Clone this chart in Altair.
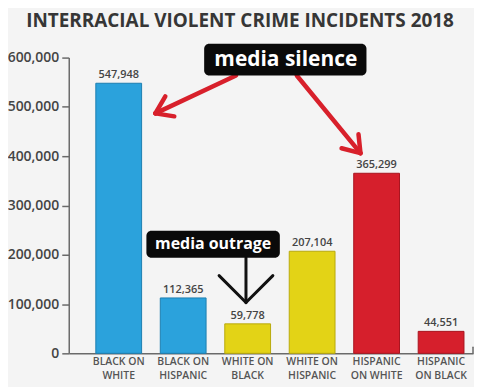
import altair as alt
import pandas as pd

categories = ["BLACK ON\nWHITE", "BLACK ON\nHISPANIC", "WHITE ON\nBLACK",
              "WHITE ON\nHISPANIC", "HISPANIC\nON WHITE", "HISPANIC\nON BLACK"]
incidents = [547948, 112365, 59778, 207104, 365299, 44551]
bar_colors = ["#2ba2dc", "#2ba2dc", "#e3d316", "#e3d316", "#d61f2c", "#d61f2c"]
stroke_colors = ["#1d7fb0", "#1d7fb0", "#b8a90c", "#b8a90c", "#a8141f", "#a8141f"]
y_ticks = [0, 100000, 200000, 300000, 400000, 500000, 600000]

df = pd.DataFrame({"cat": categories, "n": incidents,
                   "fill": bar_colors, "edge": stroke_colors})
one = pd.DataFrame({"k": [0]})

FONT = "Open Sans"
RED = "#d8202b"

x_enc = alt.X("cat:N", sort=categories,
              scale=alt.Scale(paddingInner=0.29, paddingOuter=0.28, align=0.75),
              axis=alt.Axis(title=None, labelAngle=0, ticks=False,
                            domainColor="#6a6a6a", domainWidth=1.5,
                            labelExpr="split(datum.label, '\\n')",
                            labelFont=FONT, labelFontSize=10.5, labelColor="#555555",
                            labelFontWeight=600, labelLineHeight=14, labelPadding=3))
y_enc = alt.Y("n:Q", scale=alt.Scale(domain=[0, 600000], nice=False),
              axis=alt.Axis(title=None, values=y_ticks, format=",.0f", grid=False,
                            domainColor="#6a6a6a", domainWidth=1.5,
                            tickColor="#6a6a6a", tickWidth=1.5, tickSize=7,
                            labelFont=FONT, labelFontSize=14, labelFontWeight=600,
                            labelColor="#444444", labelPadding=3))

bars = alt.Chart(df).mark_bar(strokeWidth=1).encode(
    x=x_enc, y=y_enc,
    fill=alt.Fill("fill:N", scale=None),
    stroke=alt.Stroke("edge:N", scale=None),
)

values = alt.Chart(df).mark_text(dy=-8, font=FONT, fontSize=11, fontWeight=600,
                                 color="#444444").encode(
    x=alt.X("cat:N", sort=categories), y="n:Q", text=alt.Text("n:Q", format=",.0f"))


def seg(x1, y1, x2, y2, color, w):
    return alt.Chart(one).mark_rule(color=color, strokeWidth=w, strokeCap="round").encode(
        x=alt.value(x1), y=alt.value(y1), x2=alt.value(x2), y2=alt.value(y2))


def box(x1, y1, x2, y2):
    return alt.Chart(one).mark_rect(color="#0a0a0a", cornerRadius=5).encode(
        x=alt.value(x1), y=alt.value(y1), x2=alt.value(x2), y2=alt.value(y2))


def label(text, x, y, size, color="white", weight="bold"):
    return alt.Chart(one).mark_text(font=FONT, fontSize=size, fontWeight=weight,
                                    color=color, baseline="middle", align="center").encode(
        x=alt.value(x), y=alt.value(y), text=alt.value(text))


layers = [bars, values,
          # right end tick of x axis
          seg(406, 297, 406, 291, "#6a6a6a", 1.5),
          # red arrows
          seg(168, 18, 87, 56, RED, 4.5),
          seg(87, 56, 106, 59, RED, 4.5),
          seg(87, 56, 97, 39, RED, 4.5),
          seg(229, 18, 293, 96, RED, 4.5),
          seg(293, 96, 291, 77, RED, 4.5),
          seg(293, 96, 274, 91, RED, 4.5),
          box(136, -14, 299, 18),
          label("media silence", 218, 2, 21),
          # black arrows
          seg(178, 201, 178, 246, "#111111", 3),
          seg(151, 219, 178, 246, "#111111", 3),
          seg(205, 219, 178, 246, "#111111", 3),
          box(78, 174, 212, 201),
          label("media outrage", 145, 187, 16),
          label("INTERRACIAL VIOLENT CRIME INCIDENTS 2018", 172, -37, 19,
                color="#363636", weight="bold"),
          ]

chart = alt.layer(*layers).properties(
    width=406, height=297,
    autosize=alt.AutoSizeParams(type="none"),
    padding={"left": 61, "top": 49, "right": 1, "bottom": 33},
    background="#f4f4f4",
).configure_view(stroke=None)

chart.save("out.html", embed_options={"renderer": "svg", "actions": False})
